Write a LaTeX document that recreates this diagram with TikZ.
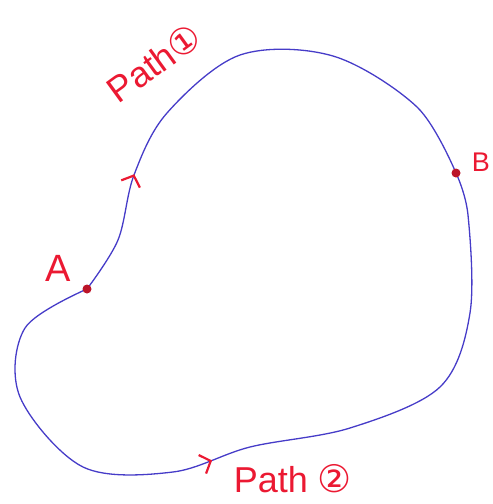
\documentclass[tikz,border=0pt]{standalone}
\usepackage{fontspec}
\setsansfont{Liberation Sans}
\newfontfamily\circfont{DejaVu Sans}
\usetikzlibrary{arrows.meta,decorations.markings}
\definecolor{Ink}{RGB}{70,60,200}
\definecolor{Pen}{RGB}{235,25,50}

\begin{document}
\begin{tikzpicture}[
    x=1pt, y=-1pt,
    line width=1.2pt,
    font=\sffamily\fontsize{36}{36}\selectfont,
    dot/.style={circle,fill=Pen!80!black,inner sep=0pt,minimum size=9pt},
    tag/.style={Pen,inner sep=0pt},
    curve/.style={Ink,line width=1.3pt},
    tip/.style={postaction={decorate},decoration={markings,
      mark=at position #1 with {\arrow[Pen,line width=2.2pt]{Straight Barb[length=9pt,width=20pt]}}}}
]
  \useasboundingbox (0,0) rectangle (493,504);

  \coordinate (A) at (87,289);
  \coordinate (B) at (456,173);

  \draw[curve,tip=0.225] plot[smooth,tension=0.55] coordinates {(A) (118,240) (134,175)
    (167,113) (240,55) (333,56) (417,107) (B)};
  \draw[curve,tip=0.445] plot[smooth,tension=0.55] coordinates {(A) (25,328) (20,397)
    (83,467) (173,472) (250,447) (350,428) (440,387) (470,313) (468,215) (B)};

  \node[dot] (dotA) at (A) {};
  \node[dot] (dotB) at (B) {};

  \node[tag,font=\sffamily\fontsize{38}{38}\selectfont] (labA) at (58,268) {A};
  \node[tag,font=\sffamily\fontsize{27}{27}\selectfont] (labB) at (481,162) {B};
  \node[tag,rotate=36] (lab1) at (154,63) {Path{\circfont ①}};
  \node[tag] (lab2) at (293,479) {Path {\circfont\fontsize{38}{38}\selectfont ②}};
\end{tikzpicture}
\end{document}
